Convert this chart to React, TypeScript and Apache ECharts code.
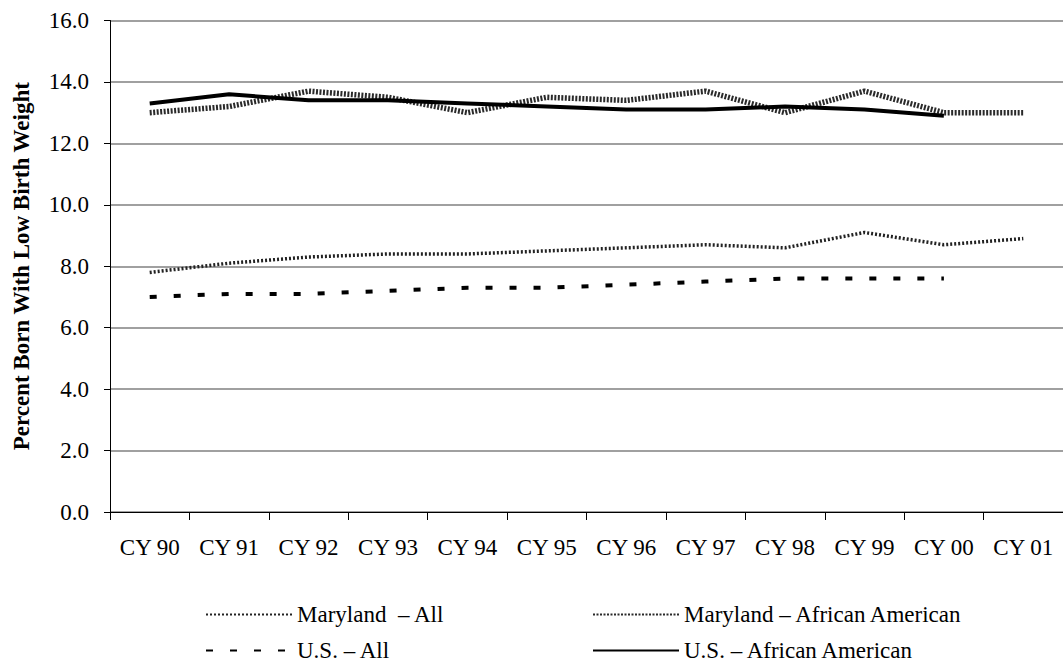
import React, { useEffect, useRef } from "react";
import * as echarts from "echarts";

const categories = ["CY 90", "CY 91", "CY 92", "CY 93", "CY 94", "CY 95", "CY 96", "CY 97", "CY 98", "CY 99", "CY 00", "CY 01"];
const marylandAll = [7.8, 8.1, 8.3, 8.4, 8.4, 8.5, 8.6, 8.7, 8.6, 9.1, 8.7, 8.9];
const marylandAA = [13.0, 13.2, 13.7, 13.5, 13.0, 13.5, 13.4, 13.7, 13.0, 13.7, 13.0, 13.0];
const usAll = [7.0, 7.1, 7.1, 7.2, 7.3, 7.3, 7.4, 7.5, 7.6, 7.6, 7.6, null];
const usAA = [13.3, 13.6, 13.4, 13.4, 13.3, 13.2, 13.1, 13.1, 13.2, 13.1, 12.9, null];
const seriesNames = ["Maryland  – All", "Maryland – African American", "U.S. – All", "U.S. – African American"];

const FONT = "'Liberation Serif', 'Times New Roman', serif";

export default function App() {
  const ref = useRef<HTMLDivElement>(null);
  useEffect(() => {
    if (!ref.current) return;
    const chart = echarts.init(ref.current, undefined, { renderer: "svg" });
    const legendText = { fontFamily: FONT, fontSize: 23, color: "#000" };
    const mkLegend = (name: string, left: number, top: number) => ({
      data: [name],
      left,
      top,
      itemWidth: 86,
      itemHeight: 10,
      itemGap: 0,
      padding: 0,
      selectedMode: false,
      itemStyle: { opacity: 0 },
      textStyle: legendText,
    });
    chart.setOption({
      animation: false,
      backgroundColor: "#fff",
      grid: { left: 110, right: -1, top: 20.5, bottom: 152 },
      legend: [
        mkLegend(seriesNames[0], 205, 603),
        mkLegend(seriesNames[1], 592, 603),
        mkLegend(seriesNames[2], 205, 639),
        mkLegend(seriesNames[3], 592, 639),
      ],
      xAxis: {
        type: "category",
        data: categories,
        boundaryGap: true,
        axisLine: { lineStyle: { color: "#000", width: 1 } },
        axisTick: { show: true, length: 8, lineStyle: { color: "#000" } },
        axisLabel: { fontFamily: FONT, fontSize: 23, color: "#000", margin: 24, interval: 0 },
        splitLine: { show: false },
      },
      yAxis: {
        type: "value",
        min: 0,
        max: 16,
        interval: 2,
        name: "Percent Born With Low Birth Weight",
        nameLocation: "middle",
        nameGap: 77,
        nameTextStyle: { fontFamily: FONT, fontSize: 23, fontWeight: "bold", color: "#000" },
        axisLine: { show: true, lineStyle: { color: "#000", width: 1 } },
        axisTick: { show: true, length: 6, lineStyle: { color: "#000" } },
        axisLabel: {
          fontFamily: FONT,
          fontSize: 23,
          color: "#000",
          margin: 21,
          formatter: (v: number) => v.toFixed(1),
        },
        splitLine: { show: true, lineStyle: { color: "#808080", width: 1.5 } },
      },
      series: [
        {
          name: seriesNames[0],
          type: "line",
          data: marylandAll,
          symbol: "none",
          itemStyle: { color: "#222" },
          lineStyle: { color: "#222", width: 3.5, type: [2, 2] },
        },
        {
          name: seriesNames[1],
          type: "line",
          data: marylandAA,
          symbol: "none",
          itemStyle: { color: "#2a2a2a" },
          lineStyle: { color: "#2a2a2a", width: 5.5, type: [2, 1.5] },
        },
        {
          name: seriesNames[2],
          type: "line",
          data: usAll,
          symbol: "none",
          itemStyle: { color: "#000" },
          lineStyle: { color: "#000", width: 4, type: [7, 17], cap: "butt" },
        },
        {
          name: seriesNames[3],
          type: "line",
          data: usAA,
          symbol: "none",
          itemStyle: { color: "#000" },
          lineStyle: { color: "#000", width: 4 },
        },
      ],
    });
    return () => chart.dispose();
  }, []);
  return <div ref={ref} style={{ width: 1063, height: 664, position: "absolute", left: 0, top: 0 }} />;
}
